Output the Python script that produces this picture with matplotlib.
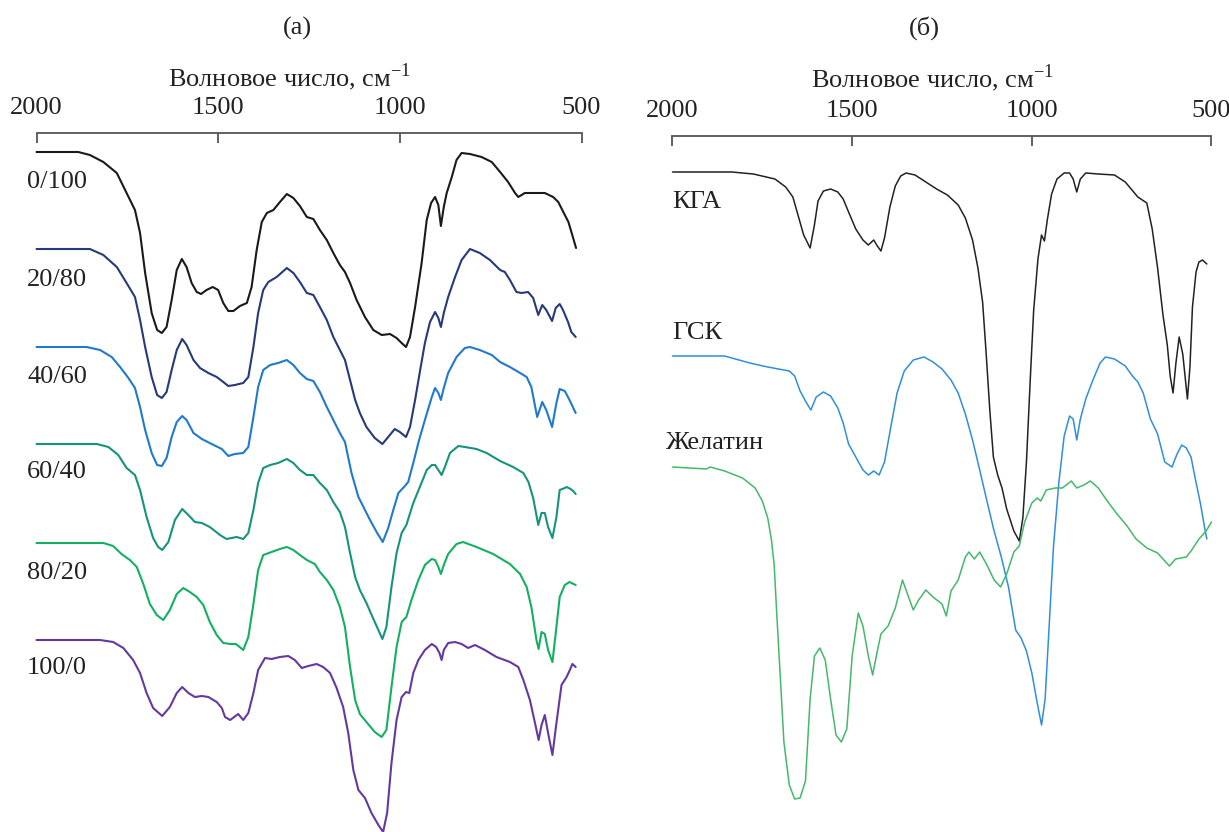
import matplotlib
matplotlib.use('agg')
import matplotlib.pyplot as plt

plt.rcParams['font.family'] = ['Liberation Serif', 'DejaVu Serif']
plt.rcParams['mathtext.fontset'] = 'custom'
plt.rcParams['mathtext.rm'] = 'Liberation Serif'

# panel (a): composite spectra, labels = ratio
labels_a = ['0/100', '20/80', '40/60', '60/40', '80/20', '100/0']
colors_a = ['#1a1a1a', '#253a78', '#1f7acb', '#16937f', '#13b062', '#6538a0']

wn_0_100 = [2000, 1885, 1853, 1816, 1779, 1752, 1729, 1715, 1701, 1683,
            1668, 1655, 1642, 1628, 1614, 1600, 1587, 1573, 1559, 1547,
            1532, 1515, 1500, 1486, 1472, 1458, 1440, 1421, 1408, 1394,
            1380, 1366, 1348, 1330, 1311, 1293, 1275, 1256, 1238, 1220,
            1201, 1183, 1165, 1151, 1137, 1119, 1096, 1073, 1050, 1027,
            1009, 995, 983, 972, 958, 940, 926, 914, 903, 894,
            887, 879, 871, 857, 844, 830, 807, 775, 747, 724,
            702, 683, 674, 656, 633, 601, 578, 564, 550, 536,
            527, 515]
t_0_100 = [0, 0, -3, -10, -21, -41, -58, -81, -121, -161,
           -178, -181, -175, -148, -118, -107, -115, -131, -140, -142,
           -138, -135, -138, -151, -159, -159, -154, -151, -135, -98,
           -70, -61, -58, -50, -42, -46, -54, -65, -67, -78,
           -88, -101, -113, -120, -131, -148, -165, -178, -183, -182,
           -186, -191, -195, -185, -155, -111, -68, -51, -45, -53,
           -74, -55, -41, -25, -8, -1, -2, -5, -10, -20,
           -30, -41, -45, -41, -41, -41, -45, -50, -60, -70,
           -81, -96]

wn_20_80 = [2000, 1853, 1816, 1779, 1752, 1729, 1715, 1701, 1683, 1668,
            1655, 1642, 1628, 1614, 1599, 1587, 1568, 1550, 1527, 1504,
            1486, 1472, 1454, 1431, 1417, 1403, 1390, 1376, 1362, 1339,
            1311, 1293, 1275, 1256, 1238, 1220, 1201, 1183, 1165, 1151,
            1137, 1123, 1110, 1092, 1069, 1048, 1032, 1014, 1000, 983,
            972, 958, 944, 931, 917, 903, 894, 887, 879, 867,
            848, 830, 807, 780, 752, 724, 711, 697, 679, 665,
            647, 633, 619, 608, 597, 581, 571, 560, 551, 537,
            528, 516]
t_20_80 = [0, 0, -6, -18, -34, -48, -71, -98, -128, -146,
           -149, -143, -121, -101, -90, -96, -111, -119, -124, -128,
           -133, -137, -136, -134, -128, -98, -64, -41, -33, -28,
           -19, -24, -33, -44, -46, -58, -71, -88, -101, -111,
           -131, -151, -164, -178, -189, -195, -188, -180, -183, -188,
           -178, -151, -121, -94, -73, -63, -69, -78, -64, -48,
           -28, -11, 0, -4, -11, -21, -23, -31, -43, -44,
           -43, -49, -66, -56, -61, -72, -59, -55, -61, -73,
           -83, -88]

wn_40_60 = [2000, 1862, 1825, 1793, 1770, 1747, 1729, 1715, 1701, 1683,
            1668, 1655, 1642, 1628, 1614, 1599, 1587, 1568, 1545, 1518,
            1490, 1472, 1454, 1431, 1417, 1403, 1390, 1376, 1357, 1335,
            1311, 1293, 1275, 1256, 1238, 1220, 1201, 1183, 1165, 1151,
            1133, 1114, 1082, 1064, 1047, 1032, 1018, 1004, 986, 977,
            963, 947, 931, 912, 903, 894, 887, 879, 867, 844,
            821, 807, 780, 747, 724, 697, 669, 651, 638, 622,
            608, 597, 581, 569, 560, 546, 533, 516]
t_40_60 = [0, 0, -3, -10, -20, -31, -41, -60, -83, -106,
           -118, -119, -111, -90, -75, -69, -73, -86, -92, -97,
           -102, -109, -107, -106, -100, -70, -40, -23, -18, -16,
           -13, -18, -26, -32, -34, -45, -60, -73, -86, -95,
           -126, -150, -173, -185, -195, -181, -163, -146, -139, -135,
           -116, -93, -73, -50, -41, -46, -53, -41, -26, -10,
           -1, 0, -3, -8, -15, -20, -26, -30, -40, -70,
           -55, -63, -80, -56, -42, -44, -53, -66]

wn_60_40 = [2000, 1834, 1802, 1775, 1752, 1729, 1715, 1697, 1679, 1665,
            1654, 1637, 1619, 1599, 1582, 1564, 1545, 1523, 1495, 1477,
            1449, 1431, 1417, 1403, 1390, 1376, 1357, 1335, 1311, 1293,
            1275, 1256, 1238, 1220, 1201, 1183, 1165, 1151, 1137, 1123,
            1110, 1092, 1069, 1048, 1037, 1023, 1009, 995, 982, 963,
            945, 926, 912, 903, 894, 885, 876, 862, 839, 821,
            789, 761, 724, 688, 660, 646, 633, 619, 610, 601,
            592, 580, 569, 560, 546, 541, 530, 523, 516]
t_60_40 = [0, 0, -3, -11, -24, -31, -46, -73, -94, -103,
           -106, -98, -76, -65, -71, -78, -79, -83, -91, -95,
           -93, -95, -89, -66, -39, -24, -21, -19, -15, -19,
           -26, -31, -31, -39, -46, -58, -68, -83, -109, -133,
           -146, -159, -178, -195, -183, -143, -109, -89, -81, -59,
           -43, -26, -21, -21, -26, -31, -23, -9, -2, -3,
           -5, -9, -17, -23, -29, -38, -54, -81, -69, -69,
           -83, -94, -73, -46, -44, -43, -45, -47, -50]

wn_80_20 = [2000, 1816, 1789, 1766, 1743, 1724, 1706, 1688, 1669, 1651,
            1633, 1614, 1596, 1578, 1559, 1541, 1523, 1504, 1486, 1467,
            1451, 1431, 1417, 1403, 1390, 1376, 1353, 1330, 1311, 1293,
            1275, 1256, 1234, 1220, 1201, 1183, 1165, 1151, 1137, 1123,
            1110, 1092, 1069, 1050, 1037, 1023, 1009, 995, 982, 968,
            949, 931, 912, 903, 894, 887, 879, 867, 844, 826,
            789, 743, 697, 669, 651, 638, 624, 618, 610, 601,
            592, 580, 569, 560, 546, 533, 516]
t_80_20 = [0, 0, -3, -11, -17, -24, -41, -61, -72, -77,
           -67, -51, -45, -49, -54, -62, -79, -92, -100, -101,
           -101, -107, -94, -61, -27, -12, -9, -6, -4, -7,
           -12, -17, -21, -29, -37, -47, -64, -84, -124, -157,
           -171, -179, -189, -194, -187, -144, -104, -79, -74, -57,
           -37, -22, -16, -17, -24, -31, -22, -11, -1, 1,
           -4, -11, -21, -31, -44, -64, -97, -106, -89, -91,
           -107, -119, -84, -54, -42, -39, -42]

wn_100_0 = [2000, 1825, 1789, 1761, 1734, 1715, 1697, 1679, 1654, 1633,
            1614, 1599, 1582, 1564, 1545, 1527, 1504, 1490, 1481, 1467,
            1456, 1445, 1431, 1417, 1403, 1390, 1371, 1353, 1330, 1307,
            1289, 1270, 1252, 1229, 1211, 1192, 1174, 1156, 1142, 1128,
            1114, 1096, 1078, 1059, 1046, 1035, 1023, 1009, 995, 983,
            974, 963, 949, 931, 912, 900, 891, 885, 879, 867,
            848, 830, 812, 793, 766, 734, 697, 674, 660, 642,
            628, 618, 610, 601, 592, 580, 569, 555, 541, 532,
            525, 516]
t_100_0 = [0, 0, -2, -8, -20, -33, -53, -68, -76, -67,
           -53, -47, -53, -57, -56, -57, -62, -68, -77, -80,
           -77, -74, -80, -73, -53, -30, -18, -19, -17, -16,
           -20, -28, -26, -24, -27, -33, -48, -67, -93, -130,
           -150, -158, -173, -185, -192, -173, -123, -80, -57, -52,
           -53, -33, -20, -10, -4, -7, -13, -20, -10, -3,
           -2, -4, -8, -5, -10, -17, -22, -27, -40, -60,
           -83, -100, -85, -75, -93, -115, -83, -45, -37, -30,
           -24, -27]

# panel (б): pure components
labels_b = ['КГА', 'ГСК', 'Желатин']
colors_b = ['#222222', '#2f8fdb', '#45b86b']

wn_kga = [2000, 1835, 1775, 1715, 1685, 1665, 1650, 1635, 1617, 1605,
          1595, 1580, 1560, 1540, 1525, 1510, 1490, 1470, 1455, 1440,
          1430, 1420, 1410, 1395, 1380, 1365, 1350, 1325, 1295, 1265,
          1235, 1205, 1185, 1165, 1150, 1137, 1127, 1117, 1107, 1095,
          1083, 1070, 1050, 1035, 1025, 1015, 1005, 995, 983, 973,
          965, 957, 945, 930, 910, 895, 885, 875, 865, 850,
          815, 770, 740, 705, 680, 665, 650, 635, 623, 615,
          607, 599, 590, 580, 567, 560, 553, 543, 535, 525,
          513]
t_kga = [0, 0, -2, -7, -15, -25, -44, -63, -76, -53,
         -29, -19, -17, -20, -27, -40, -57, -68, -73, -68,
         -74, -79, -66, -35, -14, -4, -1, -3, -10, -17,
         -23, -33, -46, -68, -96, -130, -182, -238, -285, -303,
         -316, -337, -359, -369, -346, -290, -212, -139, -87, -63,
         -69, -48, -22, -7, -1, -1, -7, -20, -7, -1,
         -2, -3, -10, -25, -31, -57, -96, -143, -173, -204,
         -221, -191, -165, -182, -227, -195, -135, -100, -90, -88,
         -92]

wn_gsk = [2000, 1855, 1785, 1735, 1675, 1660, 1645, 1630, 1615, 1600,
          1580, 1560, 1540, 1525, 1510, 1490, 1470, 1455, 1440, 1425,
          1410, 1395, 1375, 1355, 1330, 1300, 1275, 1250, 1225, 1205,
          1185, 1165, 1145, 1125, 1105, 1085, 1065, 1045, 1030, 1015,
          1000, 985, 973, 963, 953, 940, 925, 910, 895, 885,
          875, 865, 850, 830, 810, 795, 770, 740, 720, 705,
          690, 670, 650, 630, 610, 597, 583, 570, 557, 545,
          530, 520, 513]
t_gsk = [0, 0, -7, -11, -15, -20, -35, -45, -54, -41,
         -36, -40, -52, -67, -88, -101, -114, -119, -115, -119,
         -106, -76, -37, -15, -4, -1, -6, -13, -24, -37,
         -58, -84, -114, -145, -175, -201, -231, -274, -282, -295,
         -317, -347, -369, -343, -278, -192, -127, -80, -60, -63,
         -84, -63, -43, -24, -7, -1, -3, -10, -20, -26,
         -37, -63, -78, -106, -111, -99, -89, -92, -101, -123,
         -149, -170, -183]

wn_gel = [2000, 1905, 1895, 1855, 1805, 1770, 1750, 1735, 1725, 1717,
          1710, 1700, 1690, 1675, 1660, 1645, 1630, 1617, 1605, 1590,
          1575, 1560, 1545, 1530, 1515, 1500, 1483, 1470, 1455, 1443,
          1430, 1420, 1400, 1380, 1360, 1345, 1330, 1315, 1295, 1275,
          1250, 1238, 1225, 1205, 1185, 1175, 1160, 1145, 1125, 1105,
          1087, 1070, 1050, 1035, 1020, 1000, 985, 975, 960, 935,
          915, 890, 875, 855, 837, 815, 790, 765, 735, 710,
          680, 650, 635, 617, 600, 570, 555, 535, 515, 500]
t_gel = [0, -2, 0, -4, -11, -21, -34, -51, -72, -98,
         -146, -210, -275, -318, -332, -331, -314, -232, -189, -181,
         -193, -232, -268, -275, -262, -189, -146, -159, -189, -208,
         -184, -167, -159, -141, -113, -128, -143, -133, -123, -130,
         -137, -149, -124, -113, -90, -85, -92, -85, -98, -113,
         -120, -107, -85, -79, -55, -36, -31, -34, -23, -21,
         -21, -14, -21, -18, -14, -21, -34, -46, -59, -72,
         -81, -86, -92, -99, -92, -90, -83, -72, -64, -55]

series_a = [(wn_0_100, t_0_100), (wn_20_80, t_20_80), (wn_40_60, t_40_60),
            (wn_60_40, t_60_40), (wn_80_20, t_80_20), (wn_100_0, t_100_0)]
series_b = [(wn_kga, t_kga), (wn_gsk, t_gsk), (wn_gel, t_gel)]

# vertical stacking of the curves
offsets_a = [0, -97, -195, -292, -391, -488]
offsets_b = [0, -184, -295]
label_dy_a = [-30, -31, -30, -28, -30, -28]
label_dy_b = [-30, 23, 24]
label_x_b = [2000, 2000, 2018]

FS = 19
W, H = 1229, 832
fig = plt.figure(figsize=(W / 100, H / 100), dpi=100)
axA = fig.add_axes([36.5 / W, 0, 545 / W, (H - 133) / H])
axB = fig.add_axes([672.5 / W, 0, 539 / W, (H - 136) / H])


def style(ax):
    ax.set_xlim(2000, 500)
    for s in ['left', 'right', 'bottom']:
        ax.spines[s].set_visible(False)
    ax.spines['top'].set_color('#555555')
    ax.spines['top'].set_linewidth(1.3)
    ax.xaxis.tick_top()
    ax.set_xticks([2000, 1500, 1000, 500])
    ax.tick_params(axis='x', direction='in', length=7, width=1.3, color='#555555',
                   labelsize=FS, pad=10, labelcolor='#222222')
    ax.set_yticks([])
    ax.patch.set_visible(False)


style(axA)
axA.set_ylim(-680, 19)
for (wn, t), off, c, lab, dy in zip(series_a, offsets_a, colors_a, labels_a, label_dy_a):
    axA.plot(wn, [v + off for v in t], color=c, lw=1.5, clip_on=False,
             solid_joinstyle='round', solid_capstyle='round')
    axA.text(2026, off + dy, lab, fontsize=FS, color='#222222', ha='left', va='center', clip_on=False)

style(axB)
axB.set_ylim(-660, 36)
for (wn, t), off, c, lab, dy, lx in zip(series_b, offsets_b, colors_b, labels_b, label_dy_b, label_x_b):
    axB.plot(wn, [v + off for v in t], color=c, lw=1.1, clip_on=False,
             solid_joinstyle='round', solid_capstyle='round')
    axB.text(lx, off + dy, lab, fontsize=FS, color='#222222', ha='left', va='center', clip_on=False)

fig.text(297 / W, 1 - 28 / H, '(a)', fontsize=FS, ha='center', va='center', color='#222222')
fig.text(924 / W, 1 - 28 / H, '(б)', fontsize=FS, ha='center', va='center', color='#222222')
fig.text(290 / W, 1 - 77 / H, 'Волновое число, см$^{-1}$', fontsize=FS, ha='center', va='center', color='#222222')
fig.text(933 / W, 1 - 78 / H, 'Волновое число, см$^{-1}$', fontsize=FS, ha='center', va='center', color='#222222')

fig.savefig('out.png', dpi=100)
